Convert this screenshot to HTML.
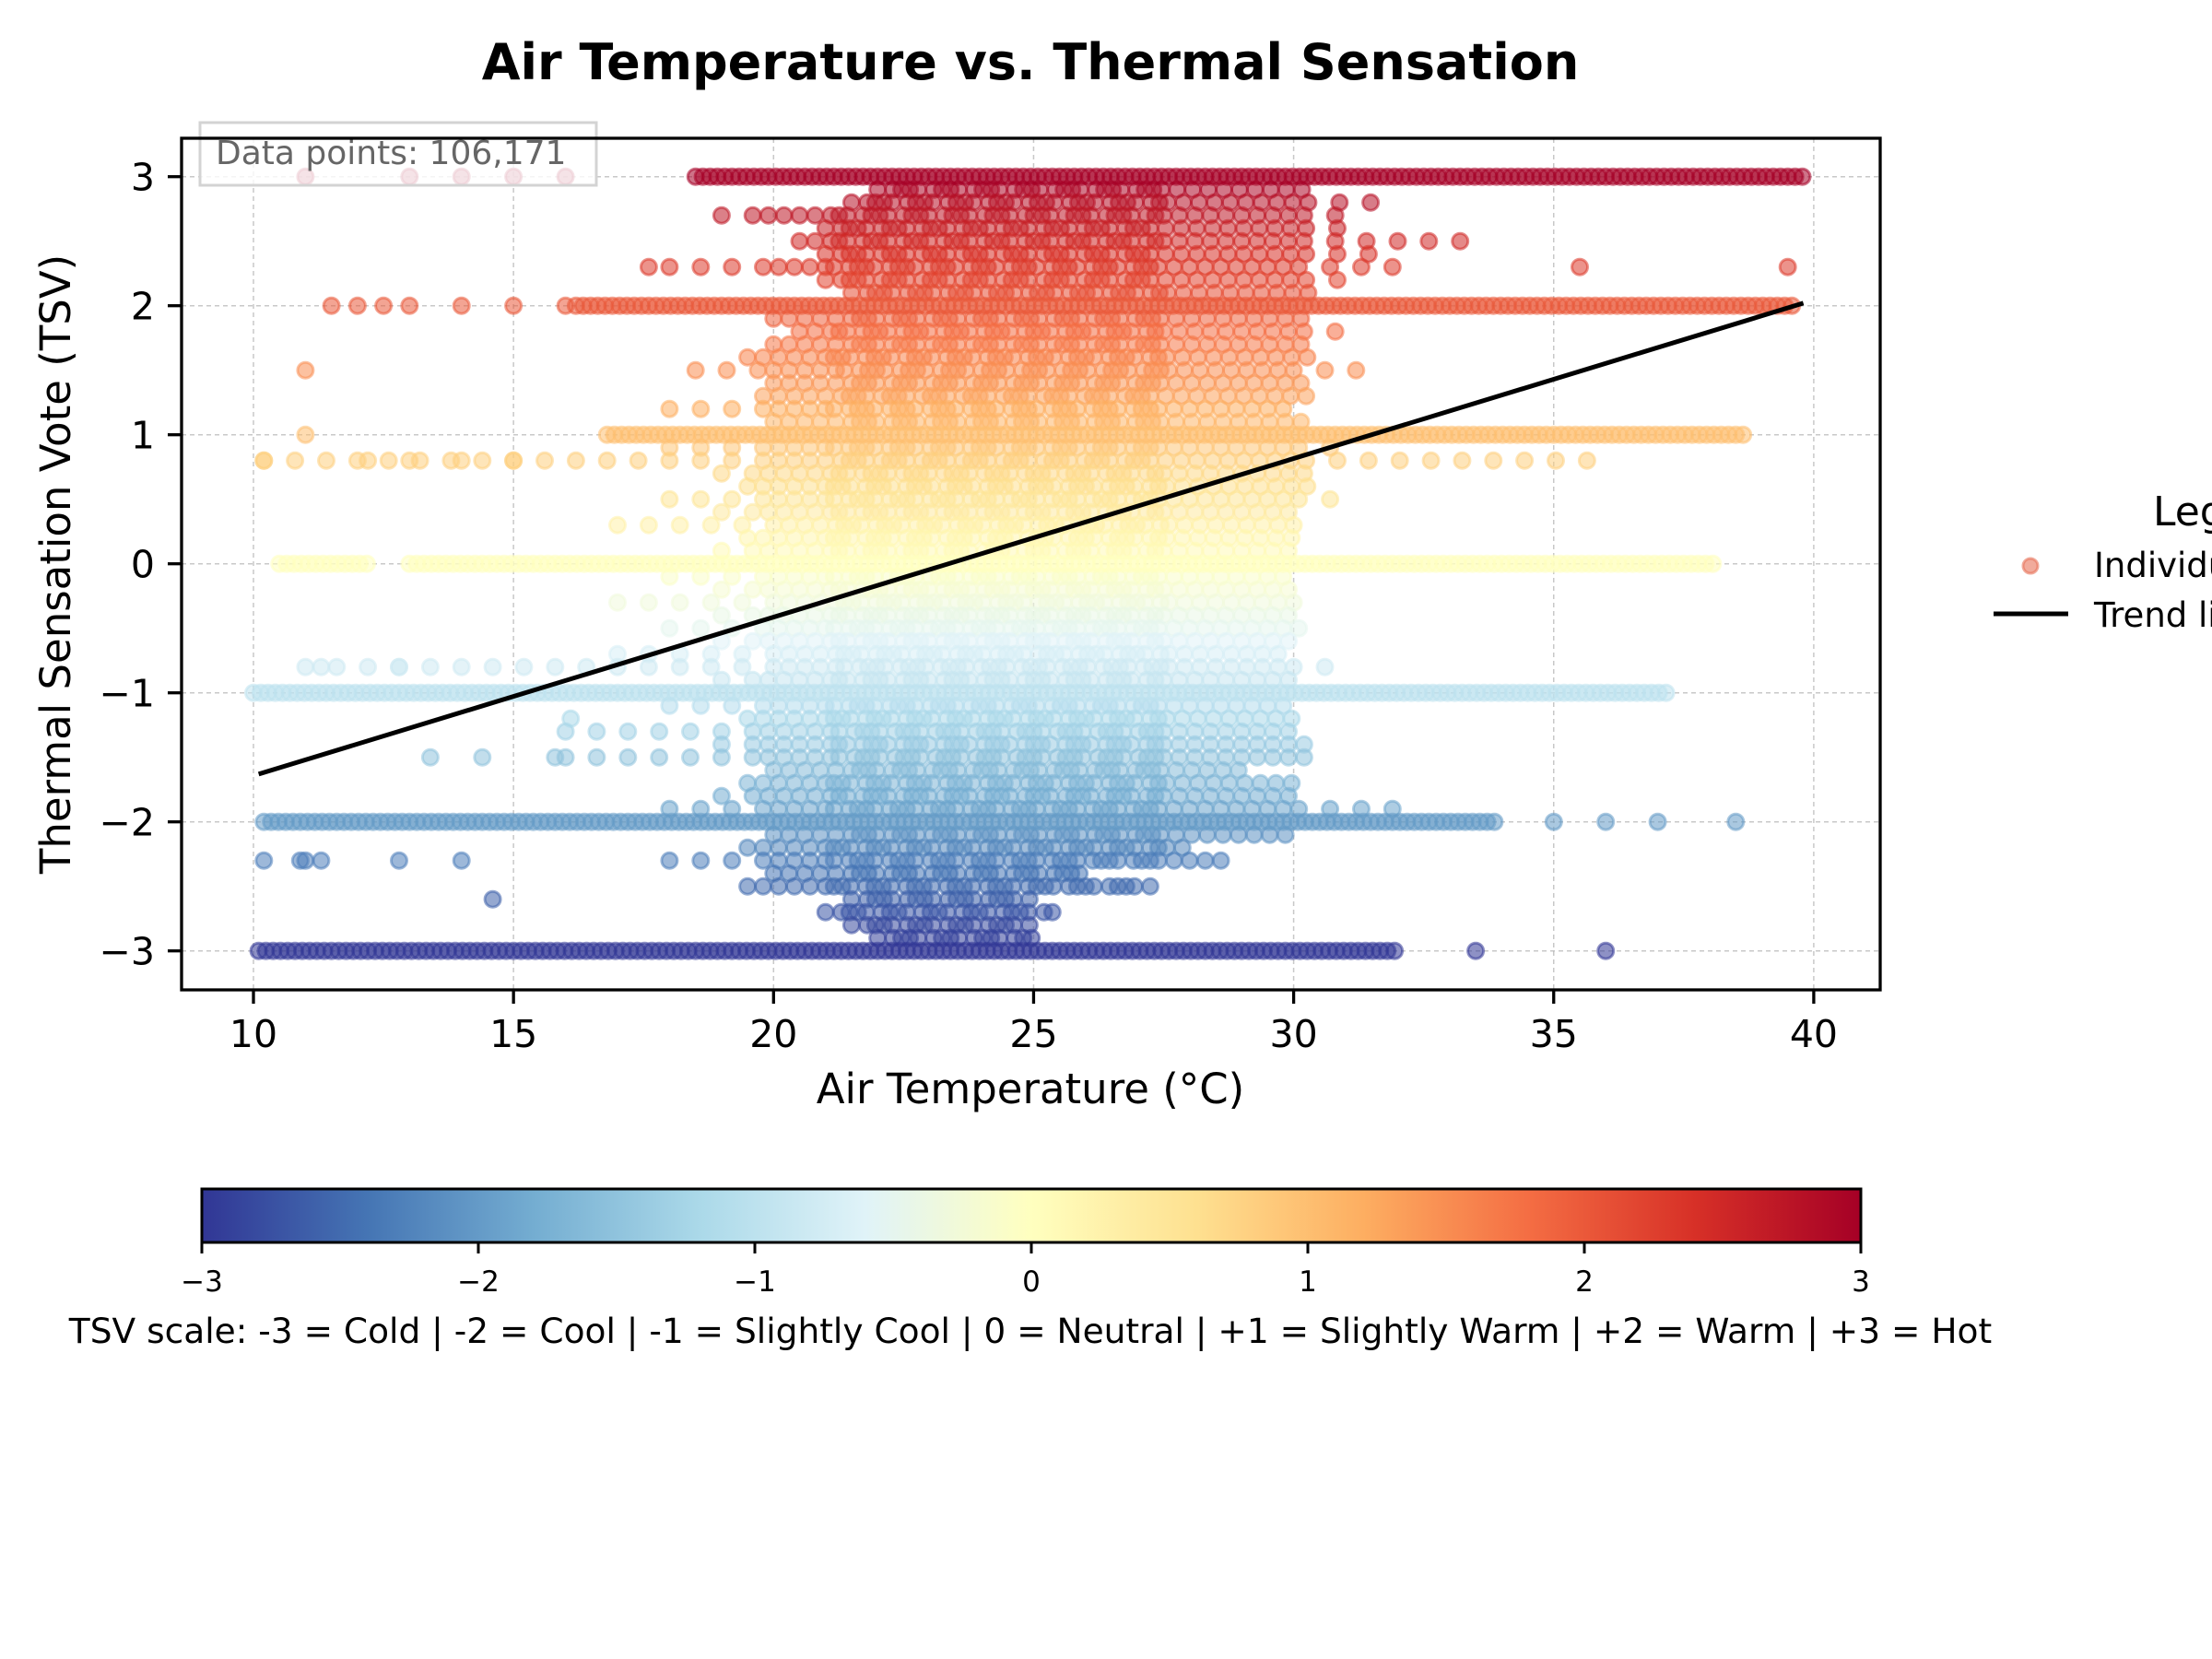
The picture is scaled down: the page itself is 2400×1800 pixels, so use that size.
<!DOCTYPE html>
<html><head><meta charset="utf-8"><style>
html,body{margin:0;padding:0;background:#fff;}
svg{display:block;font-family:"DejaVu Sans","Liberation Sans",sans-serif;}
</style></head><body>
<svg id="chart" width="2400" height="1800" viewBox="0 0 2400 1800" xmlns="http://www.w3.org/2000/svg">
<defs>
<linearGradient id="rdylbu" x1="0" x2="1" y1="0" y2="0">
<stop offset="0" stop-color="#313695"/><stop offset="0.1" stop-color="#4575b4"/><stop offset="0.2" stop-color="#74add1"/><stop offset="0.3" stop-color="#abd9e9"/><stop offset="0.4" stop-color="#e0f3f8"/><stop offset="0.5" stop-color="#ffffbf"/><stop offset="0.6" stop-color="#fee090"/><stop offset="0.7" stop-color="#fdae61"/><stop offset="0.8" stop-color="#f46d43"/><stop offset="0.9" stop-color="#d73027"/><stop offset="1" stop-color="#a50026"/>
</linearGradient>
<clipPath id="plotclip"><rect x="197" y="150" width="1843" height="924"/></clipPath>
</defs>
<text x="1118" y="86" text-anchor="middle" font-size="54" font-weight="bold">Air Temperature vs. Thermal Sensation</text>
<g id="grid"></g>
<g id="points" clip-path="url(#plotclip)"></g>
<g id="trend"></g>
<rect x="217" y="133" width="430" height="68" fill="#fff" fill-opacity="0.8" stroke="#d3d3d3" stroke-width="3"/>
<text x="234" y="178" font-size="36" fill="#666">Data points: 106,171</text>
<rect x="197" y="150" width="1843" height="924" fill="none" stroke="#000" stroke-width="3.3"/>
<g id="axes"></g>
<text x="1118" y="1197" text-anchor="middle" font-size="45">Air Temperature (°C)</text>
<text transform="translate(76,612) rotate(-90)" text-anchor="middle" font-size="45">Thermal Sensation Vote (TSV)</text>
<g>
<text x="2336" y="570" font-size="44">Legend</text>
<circle cx="2203" cy="614" r="8" fill="#e8735a" fill-opacity="0.6" stroke="#e8735a" stroke-opacity="0.6" stroke-width="3"/>
<text x="2272" y="626" font-size="37">Individual points</text>
<line x1="2163" y1="666" x2="2244" y2="666" stroke="#000" stroke-width="5"/>
<text x="2272" y="680" font-size="37">Trend line</text>
</g>
<g>
<rect x="219" y="1290" width="1800" height="58" fill="url(#rdylbu)" stroke="#000" stroke-width="3"/>
<g id="cbticks"></g>
</g>
<text x="1118" y="1457" text-anchor="middle" font-size="37.5">TSV scale: -3 = Cold | -2 = Cool | -1 = Slightly Cool | 0 = Neutral | +1 = Slightly Warm | +2 = Warm | +3 = Hot</text>
</svg>
<script>
// ---- data ----
const xTicks = [10, 15, 20, 25, 30, 35, 40];
const yTicks = [-3, -2, -1, 0, 1, 2, 3];
const cbTicks = [-3, -2, -1, 0, 1, 2, 3];
// dense horizontal bands at integer votes: level, temp start, temp end
const bandLevel = [-3, -2, -1, 0, 0, 1, 2, 3];
const bandStart = [10.1, 10.2, 10.0, 10.5, 13.0, 16.8, 16.2, 18.5];
const bandEnd   = [32.0, 34.0, 37.3, 12.2, 38.2, 38.7, 39.6, 39.8];
// intermediate votes cloud: vote, min temp, max temp
const cloudV = [2.9,2.8,2.7,2.6,2.5,2.4,2.3,2.2,2.1,1.9,1.8,1.7,1.6,1.5,1.4,1.3,1.2,1.1,0.9,0.8,0.7,0.6,0.5,0.4,0.3,0.2,0.1,-0.1,-0.2,-0.3,-0.4,-0.5,-0.6,-0.7,-0.8,-0.9,-1.1,-1.2,-1.3,-1.4,-1.5,-1.6,-1.7,-1.8,-1.9,-2.1,-2.2,-2.3,-2.4,-2.5,-2.6,-2.7,-2.8,-2.9];
const cloudMin = [22,21.5,19,21,20.5,21,18,21,21.5,20,20.5,20,19.5,18.5,20,19.8,18,20,18,10.2,19,19.5,18,19,17,19.5,19,18,19,17,19,18,19,17,11,19,18,19.5,16,19,16,20,19.5,19,18,20,19.5,18,20,19.5,21.5,21,21.5,22];
const cloudMax = [30.5,31.5,31,31.3,33.8,31.5,32.5,31,30.5,30.2,31,30.5,30.8,31.5,30.5,30.5,30,30.2,30.8,36,30.5,30.5,31.2,30.2,30.5,30,30,30,30,30.5,30,30.5,30,30,31,30,30,30,30,30.5,30.8,29,30,30,32,30,28,28.7,26,27.3,25,25.5,25,25];
// isolated points
const sparseT = [11,13,14,15,16,11.5,12,12.5,13,14,15,16,10.2,11,12.2,13,14,15,11.3,12.8,10.2,11,10.9,11.3,12.8,14,14.6,35,36,37,38.5,35.5,39.5,33.5,36,11,13.4,14.4,15.8,16.1,17.6];
const sparseV = [3,3,3,3,3,2,2,2,2,2,2,2,0.8,1,0.8,0.8,0.8,0.8,-0.8,-0.8,-2.3,-2.3,-2.3,-2.3,-2.3,-2.3,-2.6,-2,-2,-2,-2,2.3,2.3,-3,-3,1.5,-1.5,-1.5,-1.5,-1.2,2.3];
// trend line endpoints
const trendT = [10.1, 39.8];
const trendV = [-1.63, 2.02];

// ---- scales ----
const X = t => 275 + (t - 10) * 56.43;
const Y = v => 191.7 + (3 - v) * 140;
const NS = 'http://www.w3.org/2000/svg';
const stops = ['#313695','#4575b4','#74add1','#abd9e9','#e0f3f8','#ffffbf','#fee090','#fdae61','#f46d43','#d73027','#a50026'];
function hex(c){return [1,3,5].map(i=>parseInt(c.substr(i,2),16));}
function cmap(v){
  let f=(v+3)/6*10; f=Math.max(0,Math.min(10,f));
  const i=Math.min(9,Math.floor(f)), r=f-i, a=hex(stops[i]), b=hex(stops[i+1]);
  return 'rgb('+a.map((x,k)=>Math.round(x+(b[k]-x)*r)).join(',')+')';
}
function mk(tag,attrs,parent){const e=document.createElementNS(NS,tag);for(const k in attrs)e.setAttribute(k,attrs[k]);parent.appendChild(e);return e;}

const grid=document.getElementById('grid');
xTicks.forEach(t=>{
  const l=mk('line',{x1:X(t),x2:X(t),y1:150,y2:1074,stroke:'#b0b0b0','stroke-width':1.5,'stroke-dasharray':'5,4','stroke-opacity':0.7},grid);
  
  
});
yTicks.forEach(v=>{
  const l=mk('line',{x1:197,x2:2040,y1:Y(v),y2:Y(v),stroke:'#b0b0b0','stroke-width':1.5,'stroke-dasharray':'5,4','stroke-opacity':0.7},grid);
  
  
});

const pts=document.getElementById('points');
function dot(t,v){
  const c=cmap(v);
  const e=mk('circle',{cx:X(t).toFixed(1),cy:Y(v).toFixed(1),r:8.5,fill:c,'fill-opacity':0.55,stroke:c,'stroke-opacity':0.55,'stroke-width':3},pts);
  
  
}
// cloud
for(let i=0;i<cloudV.length;i++){
  let k=0;
  for(let t=cloudMin[i];t<=cloudMax[i];k++){
    dot(t,cloudV[i]);
    if (t>=21 && t<=27.5) t += (k%4===0?0.3:0.16);
    else if (t>=19.5 && t<=30) t += 0.3;
    else t += 0.6;
  }
}
// bands
for(let i=0;i<bandLevel.length;i++){
  for(let t=bandStart[i];t<=bandEnd[i];t+=0.14) dot(t,bandLevel[i]);
}
for(let i=0;i<sparseT.length;i++) dot(sparseT[i],sparseV[i]);

const tr=document.getElementById('trend');
const tl=mk('line',{x1:X(trendT[0]),y1:Y(trendV[0]),x2:X(trendT[1]),y2:Y(trendV[1]),stroke:'#000','stroke-width':5},tr);



const ax=document.getElementById('axes');
xTicks.forEach(t=>{
  const tk=mk('line',{x1:X(t),x2:X(t),y1:1074,y2:1089,stroke:'#000','stroke-width':3.3},ax);
  
  
  const tx=mk('text',{x:X(t),y:1136,'text-anchor':'middle','font-size':41},ax);
  
  
  tx.textContent=t;
});
yTicks.forEach(v=>{
  const tk=mk('line',{x1:182,x2:197,y1:Y(v),y2:Y(v),stroke:'#000','stroke-width':3.3},ax);
  
  
  const tx=mk('text',{x:168,y:Y(v)+15,'text-anchor':'end','font-size':41},ax);
  
  
  tx.textContent=v<0?'\u2212'+(-v):String(v);
});
const cb=document.getElementById('cbticks');
cbTicks.forEach(v=>{
  const x=219+(v+3)/6*1800;
  const tk=mk('line',{x1:x,x2:x,y1:1348,y2:1360,stroke:'#000','stroke-width':3},cb);
  
  
  const tx=mk('text',{x:x,y:1401,'text-anchor':'middle','font-size':31},cb);
  
  
  tx.textContent=v<0?'\u2212'+(-v):String(v);
});
</script>
</body></html>
